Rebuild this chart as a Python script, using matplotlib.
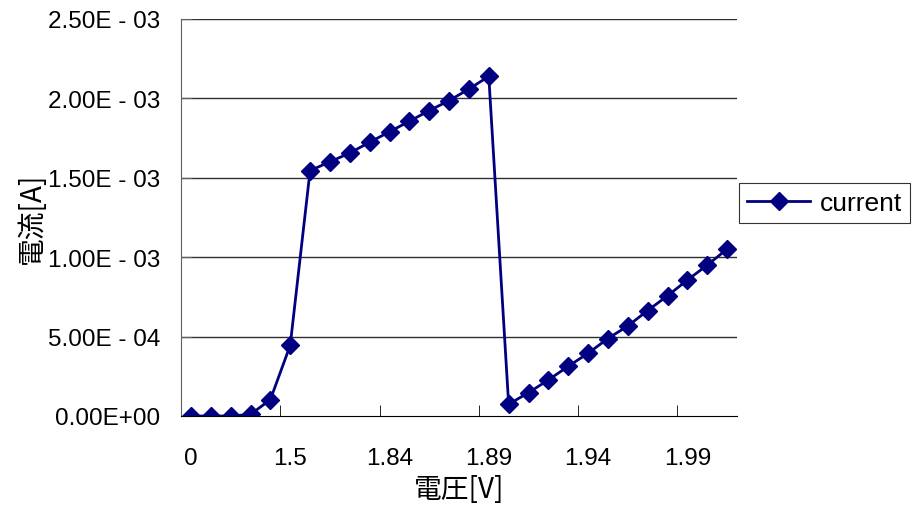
import numpy as np
import matplotlib
matplotlib.use('Agg')
import matplotlib.pyplot as plt

plt.rcParams['font.family'] = ['Liberation Sans', 'Noto Sans CJK JP', 'DejaVu Sans']

# 電圧 [V] (categories) and measured current [A]
voltage = ['0', '0.3', '0.6', '0.9', '1.2', '1.5',
           '1.8', '1.81', '1.82', '1.83', '1.84', '1.85', '1.86', '1.87', '1.88', '1.89',
           '1.9', '1.91', '1.92', '1.93', '1.94', '1.95', '1.96', '1.97', '1.98', '1.99',
           '2', '2.01']
current = [0.0, 0.0, 0.0, 1.0e-5, 1.03e-4, 4.45e-4,
           1.545e-3, 1.601e-3, 1.656e-3, 1.724e-3, 1.790e-3, 1.856e-3, 1.923e-3,
           1.986e-3, 2.059e-3, 2.139e-3,
           7.4e-5, 1.47e-4, 2.27e-4, 3.13e-4, 3.95e-4, 4.88e-4, 5.67e-4, 6.64e-4,
           7.57e-4, 8.56e-4, 9.50e-4, 1.051e-3]
y_ticks = [0, 5e-4, 1e-3, 1.5e-3, 2e-3, 2.5e-3]
y_ticklabels = ['0.00E+00', '5.00E - 04', '1.00E - 03', '1.50E - 03', '2.00E - 03', '2.50E - 03']

fig = plt.figure(figsize=(9.13, 5.10), dpi=100)
ax = fig.add_axes([181 / 913, 1 - 417 / 510, (737 - 181) / 913, (417 - 20) / 510])

n = len(voltage)
idx = np.arange(n)
line, = ax.plot(idx, current, color='#000080', linewidth=2, marker='D',
                markersize=9, markerfacecolor='#000080', markeredgecolor='#000080',
                label='current')

ax.set_xlim(-0.5, n - 0.5)
ax.set_ylim(0, 2.5e-3)

# horizontal gridlines
for yv in y_ticks[1:]:
    ax.axhline(yv, color='#303030', linewidth=1, zorder=0)

ax.set_yticks(y_ticks)
ax.set_yticklabels(y_ticklabels, fontsize=17.5)

# category labels every 5th, ticks on category boundaries
ax.set_xticks(idx[::5])
ax.set_xticklabels([voltage[i] for i in idx[::5]], fontsize=17.5)
ax.tick_params(axis='x', length=0, pad=22)
ax.set_xticks(np.arange(-0.5, n, 5)[1:], minor=True)
ax.tick_params(axis='x', which='minor', direction='in', length=8, color='black')
ax.tick_params(axis='y', direction='in', length=8, color='#606060', pad=15)

for s in ['top', 'right']:
    ax.spines[s].set_visible(False)
ax.spines['left'].set_color('#606060')
ax.spines['bottom'].set_color('black')

ax.set_xlabel('電圧[V]', fontsize=20, labelpad=4,
              family=['Noto Sans CJK JP', 'Liberation Sans'])
ax.set_ylabel('電流[A]', fontsize=20, labelpad=1,
              family=['Noto Sans CJK JP', 'Liberation Sans'])

leg = fig.legend(handles=[line], loc='center left',
                 bbox_to_anchor=(739 / 913, 1 - 204 / 510), fontsize=19,
                 frameon=True, fancybox=False, edgecolor='black',
                 handlelength=2.4, borderpad=0.3, handletextpad=0.35,
                 borderaxespad=0)
leg.get_frame().set_linewidth(0.8)

fig.savefig('out.png', dpi=100)
